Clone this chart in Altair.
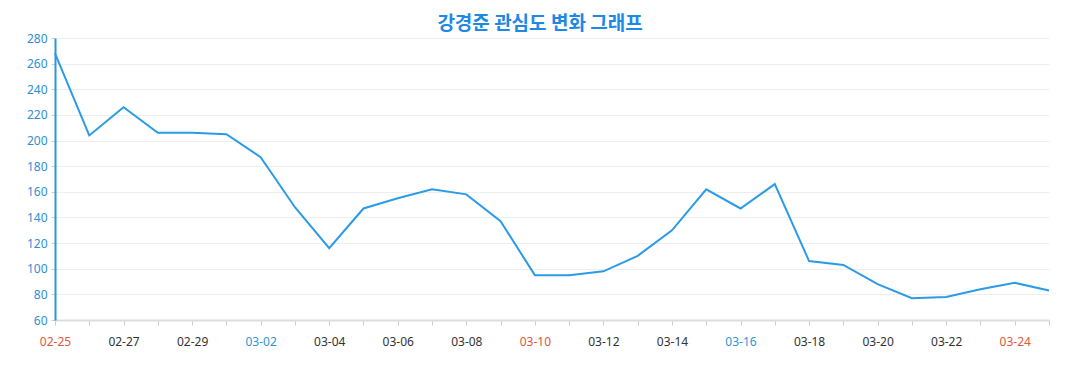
import altair as alt
import pandas as pd

dates = ["02-25", "02-26", "02-27", "02-28", "02-29", "03-01", "03-02", "03-03",
         "03-04", "03-05", "03-06", "03-07", "03-08", "03-09", "03-10", "03-11",
         "03-12", "03-13", "03-14", "03-15", "03-16", "03-17", "03-18", "03-19",
         "03-20", "03-21", "03-22", "03-23", "03-24", "03-25"]
values = [268, 204, 226, 206, 206, 205, 187, 148, 116, 147, 155, 162, 158, 137,
          95, 95, 98, 110, 130, 162, 147, 166, 106, 103, 88, 77, 78, 84, 89, 83]
shown_labels = dates[::2]
sunday_labels = ["02-25", "03-10", "03-24"]
saturday_labels = ["03-02", "03-16"]
y_ticks = list(range(60, 281, 20))

df = pd.DataFrame({"date": dates, "value": values})

def js_list(items):
    return "[" + ",".join("'" + s + "'" for s in items) + "]"

x_axis = alt.Axis(
    title=None,
    labelExpr=f"indexof({js_list(shown_labels)}, datum.value) >= 0 ? datum.label : ''",
    labelAngle=0,
    labelOverlap=False,
    labelFont="Noto Sans",
    labelFontSize=12,
    labelPadding=11,
    labelColor={
        "condition": [
            {"test": f"indexof({js_list(sunday_labels)}, datum.value) >= 0", "value": "#e0563f"},
            {"test": f"indexof({js_list(saturday_labels)}, datum.value) >= 0", "value": "#2d95d6"},
        ],
        "value": "#333333",
    },
    domainColor="#dddddd",
    domainWidth=2,
    tickColor="#cccccc",
    tickSize=5,
    grid=False,
)

y_axis = alt.Axis(
    title=None,
    values=y_ticks,
    labelFont="Noto Sans",
    labelFontSize=12,
    labelColor="#2d8fd5",
    labelPadding=4,
    domainColor="#2d95e0",
    domainWidth=2,
    tickColor="#cccccc",
    tickSize=4,
    gridColor="#eeeeee",
    gridWidth=1,
)

chart = alt.Chart(df).mark_line(color="#2b9be8", strokeWidth=2).encode(
    x=alt.X("date:O", sort=dates, axis=x_axis,
            scale=alt.Scale(type="point", padding=0)),
    y=alt.Y("value:Q", axis=y_axis,
            scale=alt.Scale(domain=[60, 280], nice=False, zero=False)),
).properties(
    width=994,
    height=282,
    title=alt.TitleParams(
        text="강경준 관심도 변화 그래프",
        font="Noto Sans CJK KR",
        fontSize=19,
        fontWeight="bold",
        color="#1e88e5",
        anchor="middle",
        dx=-12,
        offset=-2,
    ),
    autosize=alt.AutoSizeParams(type="none"),
    padding={"left": 47, "top": 30, "right": 20, "bottom": 40},
).configure_view(stroke=None)

chart.save("out.html", embed_options={"renderer": "svg", "actions": False})
